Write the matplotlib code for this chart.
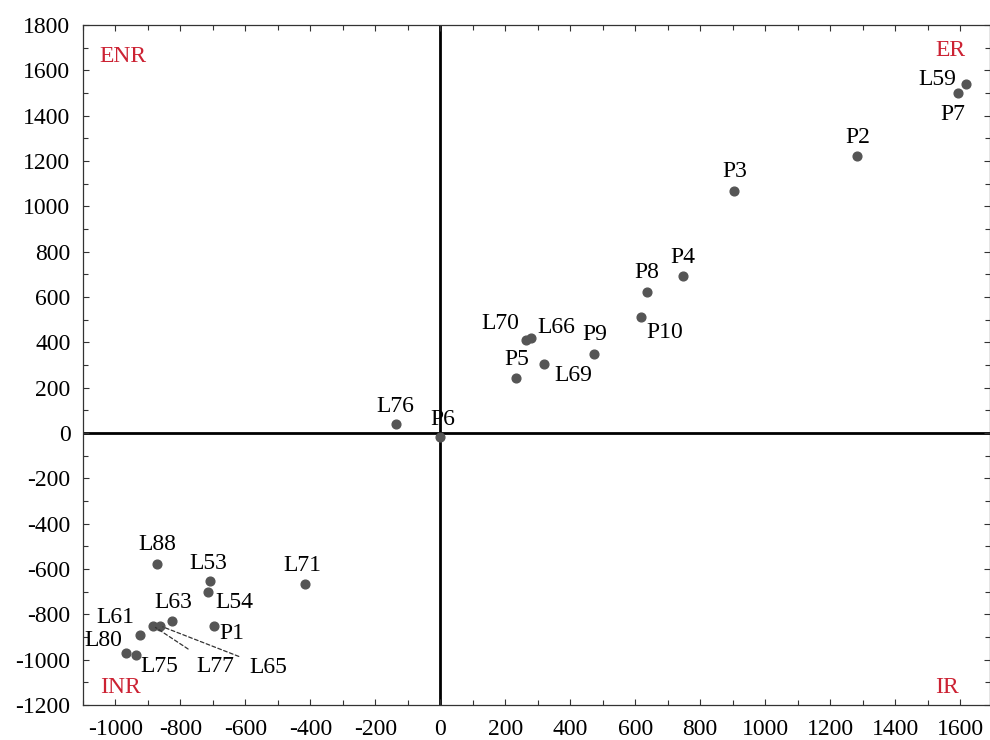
import numpy as np
import matplotlib
matplotlib.use("Agg")
import matplotlib.pyplot as plt
from matplotlib.ticker import MultipleLocator

plt.rcParams['font.family'] = ['Liberation Serif', 'DejaVu Serif']
plt.rcParams['axes.unicode_minus'] = False

# points
names = ["L59", "P7", "P2", "P3", "P4", "P8", "P10", "L70", "L66", "P9",
         "P5", "L69", "L76", "P6", "L88", "L53", "L54", "L71", "L63", "P1",
         "L61", "L77", "L65", "L80", "L75"]
xs = [1618, 1594, 1283, 905, 748, 636, 618, 265, 278, 474,
      234, 320, -135, 0, -871, -708, -714, -418, -825, -698,
      -923, -884, -862, -969, -938]
ys = [1540, 1500, 1222, 1068, 693, 622, 510, 412, 418, 348,
      243, 304, 40, -18, -578, -653, -701, -666, -829, -851,
      -891, -851, -851, -972, -979]

quadrants = ["ENR", "ER", "INR", "IR"]

# label offsets in pixels (dx, dy)
offs = {"L59": (-29, 4), "P7": (-5, -22), "P2": (1, 18), "P3": (0, 19),
        "P4": (0, 18), "P8": (0, 19), "P10": (24, -15), "L70": (-26, 16),
        "L66": (26, 11), "P9": (0, 20), "P5": (0, 18), "L69": (29, -11),
        "L76": (-1, 17), "P6": (2, 18), "L88": (0, 19), "L53": (-2, 18),
        "L54": (26, -11), "L71": (-2, 18), "L63": (1, 18), "P1": (18, -8),
        "L61": (-25, 17), "L80": (-22, 13), "L75": (24, -12)}
leader = {"L77": (62, -41), "L65": (108, -42)}

fig = plt.figure(figsize=(9.9, 7.4), dpi=100)
ax = fig.add_axes([0.0838, 0.0473, 0.9162, 0.919])

ax.axhline(0, color="black", lw=2, zorder=1)
ax.axvline(0, color="black", lw=2, zorder=1)
ax.plot(xs, ys, "o", color="#555555", ms=6.3, zorder=3)

fs = 17
for n, x, y in zip(names, xs, ys):
    if n in leader:
        dx, dy = leader[n]
        ax.annotate(n, (x, y), xytext=(dx, dy), textcoords="offset pixels",
                    ha="center", va="center", fontsize=fs,
                    arrowprops=dict(arrowstyle="-", color="#333333", lw=0.9,
                                    linestyle=(0, (3, 2)), shrinkA=6, shrinkB=2))
    else:
        dx, dy = offs[n]
        ax.annotate(n, (x, y), xytext=(dx, dy), textcoords="offset pixels",
                    ha="center", va="center", fontsize=fs)

red = "#cc2233"
qpos = [(0.044, 0.953), (0.956, 0.963), (0.041, 0.025), (0.953, 0.025)]
for q, (qx, qy) in zip(quadrants, qpos):
    ax.text(qx, qy, q, color=red, fontsize=fs, ha="center", va="center",
            transform=ax.transAxes)

ax.set_xlim(-1100, 1692)
ax.set_ylim(-1200, 1800)
ax.xaxis.set_major_locator(MultipleLocator(200))
ax.xaxis.set_minor_locator(MultipleLocator(100))
ax.yaxis.set_major_locator(MultipleLocator(200))
ax.yaxis.set_minor_locator(MultipleLocator(100))
ax.tick_params(which="both", direction="in", top=True, right=True,
               labelsize=fs, width=0.8, color="#333333")
ax.tick_params(which="major", length=4)
ax.tick_params(which="minor", length=3.5)
ax.tick_params(axis="x", pad=10)
ax.tick_params(axis="y", pad=9)
for s in ax.spines.values():
    s.set_linewidth(0.9)
    s.set_color("#333333")

fig.savefig("out.png", dpi=100)
